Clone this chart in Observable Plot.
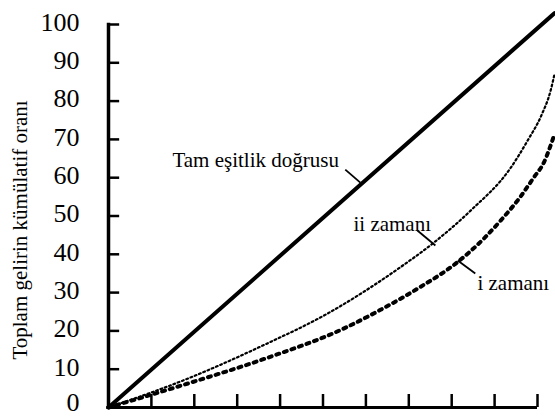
<!DOCTYPE html>
<html>
<head>
<meta charset="utf-8">
<script src="https://cdn.jsdelivr.net/npm/d3@7"></script>
<script src="https://cdn.jsdelivr.net/npm/@observablehq/plot@0.6"></script>
<style>
  html, body { margin: 0; padding: 0; background: #fff; }
  #chart svg { display: block; }
</style>
</head>
<body>
<div id="chart"></div>
<script>
// Y tick labels
const yTicks = [0, 10, 20, 30, 40, 50, 60, 70, 80, 90, 100];
const xTicks = [10, 20, 30, 40, 50, 60, 70, 80, 90, 100];
const yLabel = "Toplam gelirin kümülatif oranı";

// Perfect equality line
const eqX = [0, 104];
const eqY = [0, 103];

// "ii zamanı" curve (fine dots)
const iiX = [0, 18.6, 36, 51, 68, 76, 84.4, 93.7, 97.7, 101, 103, 104];
const iiY = [0, 7.6, 16.2, 24.5, 36.6, 43.2, 51.4, 62.5, 69.7, 76.5, 82.5, 87.2];

// "i zamanı" curve (heavy dots)
const iX = [0, 18.6, 36.6, 54.8, 63.4, 72, 81.4, 87.4, 91.4, 96, 99.1, 101.5, 103.7];
const iY = [0, 6.3, 12.8, 20.6, 25.5, 31, 38, 44, 48.8, 55, 60, 64, 70.5];

const labels = ["Tam eşitlik doğrusu", "ii zamanı", "i zamanı"];

const serif = "'Liberation Serif', 'Times New Roman', serif";
const toPts = (xs, ys) => xs.map((x, i) => ({x, y: ys[i]}));

const chart = Plot.plot({
  width: 555,
  height: 418,
  marginLeft: 108,
  marginRight: 18,
  marginTop: 24,
  marginBottom: 11,
  x: {domain: [0, 100], axis: null},
  y: {domain: [0, 100], axis: null},
  style: {fontFamily: serif, background: "#fff", color: "#000", overflow: "visible"},
  marks: [
    // axes lines
    Plot.ruleX([0], {y1: 0, y2: 100.3, stroke: "#000", strokeWidth: 3.5}),
    Plot.ruleY([0], {x1: -0.4, x2: 100, stroke: "#000", strokeWidth: 3}),
    // inward ticks
    Plot.ruleY(xTicks, {x1: 0, x2: 2.6, y: d => d, stroke: "#000", strokeWidth: 2.5}),
    Plot.ruleX(xTicks, {y1: 0, y2: 3.4, x: d => d, stroke: "#000", strokeWidth: 2.5}),
    // tick labels
    Plot.text(yTicks.filter(d => d > 0), {x: 0, y: d => d, text: d => String(d), textAnchor: "end", dx: -29, dy: -2, fontSize: 26, fontFamily: serif, fill: "#000"}),
    Plot.text(yTicks.filter(d => d === 0), {x: 0, y: d => d, text: d => String(d), textAnchor: "end", dx: -29, dy: -5, fontSize: 26, fontFamily: serif, fill: "#000"}),
    // y label
    Plot.text([yLabel], {frameAnchor: "left", text: d => d, rotate: -90, textAnchor: "middle", dx: -88, dy: 14, fontSize: 21, fontFamily: serif, fill: "#000"}),
    // equality line
    Plot.line(toPts(eqX, eqY), {x: "x", y: "y", stroke: "#000", strokeWidth: 4}),
    // ii curve
    Plot.line(toPts(iiX, iiY), {x: "x", y: "y", curve: "monotone-x", stroke: "#000", strokeWidth: 2.2, strokeDasharray: "1.8 2.8"}),
    // i curve
    Plot.line(toPts(iX, iY), {x: "x", y: "y", curve: "monotone-x", stroke: "#000", strokeWidth: 4, strokeDasharray: "3 5"}),
    // annotation labels
    Plot.text([labels[0]], {x: 14.9, y: 64.5, text: d => d, textAnchor: "start", fontSize: 21, fontFamily: serif, fill: "#000"}),
    Plot.text([labels[1]], {x: 57.1, y: 47.8, text: d => d, textAnchor: "start", fontSize: 21, fontFamily: serif, fill: "#000"}),
    Plot.text([labels[2]], {x: 86.0, y: 32.4, text: d => d, textAnchor: "start", fontSize: 21, fontFamily: serif, fill: "#000"}),
    // leader lines
    Plot.link([0], {x1: 55.2, y1: 62.1, x2: 58.7, y2: 58.7, stroke: "#000", strokeWidth: 1.8}),
    Plot.link([0], {x1: 72.0, y1: 46.2, x2: 76.2, y2: 42.3, stroke: "#000", strokeWidth: 1.8}),
    Plot.link([0], {x1: 81.4, y1: 38.4, x2: 85.5, y2: 35.0, stroke: "#000", strokeWidth: 1.8})
  ]
});
document.getElementById("chart").appendChild(chart);
</script>
</body>
</html>
